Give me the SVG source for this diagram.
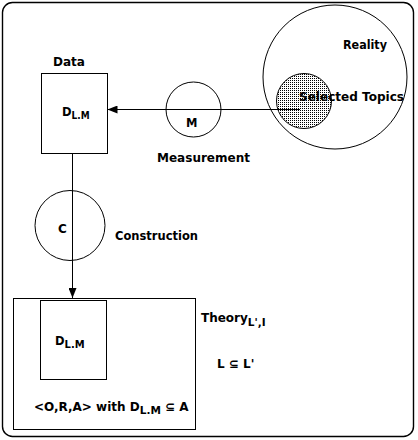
<svg xmlns="http://www.w3.org/2000/svg" width="418" height="440" viewBox="0 0 418 440">
<defs>
<style>
.s{fill:none;stroke:#000;stroke-width:1}
.t{font-family:"DejaVu Sans",sans-serif;font-weight:bold;font-size:12px;fill:#000}
.m{font-size:11.5px}
.sub{font-size:10.5px}
</style>
<pattern id="dots" width="2" height="2" patternUnits="userSpaceOnUse">
<rect width="2" height="2" fill="#fff"/>
<rect x="0" y="0" width="1" height="1" fill="#000"/>
</pattern>
<marker id="arr" viewBox="0 0 10 8" refX="10" refY="4" markerWidth="10" markerHeight="8" markerUnits="userSpaceOnUse" orient="auto">
<path d="M0,0 L10,4 L0,8 Z" fill="#000"/>
</marker>
</defs>
<rect width="418" height="440" fill="#fff"/>
<rect x="2.5" y="2.5" width="411" height="434" rx="10" ry="10" fill="none" stroke="#000" stroke-width="1.4"/>

<g id="reality">
<circle class="s" cx="335" cy="77" r="72"/>
<text class="t" x="343" y="49" textLength="44" lengthAdjust="spacingAndGlyphs">Reality</text>
</g>
<g id="selected-topics">
<circle cx="304" cy="101" r="27.5" fill="url(#dots)" stroke="#000" stroke-width="1"/>
<text class="t" x="299" y="101" textLength="105" lengthAdjust="spacingAndGlyphs">Selected Topics</text>
</g>

<g id="connectors">
<line class="s" x1="300" y1="109.5" x2="107.5" y2="109.5" marker-end="url(#arr)"/>
<line class="s" x1="72.5" y1="153" x2="72.5" y2="298" marker-end="url(#arr)"/>
</g>

<g id="measurement">
<circle class="s" cx="193.5" cy="109.5" r="27.5"/>
<text class="t m" x="186" y="127">M</text>
<text class="t" x="157" y="162" textLength="93" lengthAdjust="spacingAndGlyphs">Measurement</text>
</g>

<g id="data">
<rect class="s" x="41.5" y="73.5" width="66" height="80"/>
<text class="t" x="53" y="66" textLength="32" lengthAdjust="spacingAndGlyphs">Data</text>
<text class="t m" x="62" y="116">D<tspan class="sub" dy="3" textLength="18" lengthAdjust="spacingAndGlyphs">L.M</tspan></text>
</g>

<g id="construction">
<circle class="s" cx="70" cy="225.5" r="35"/>
<text class="t" x="58" y="233" font-size="12.5">C</text>
<text class="t" x="115" y="240" textLength="83" lengthAdjust="spacingAndGlyphs">Construction</text>
</g>

<g id="theory">
<rect class="s" x="13.5" y="298.5" width="182" height="131"/>
<rect class="s" x="40.5" y="300.5" width="66" height="79"/>
<text class="t m" x="55" y="345">D<tspan class="sub" dy="3" textLength="20" lengthAdjust="spacingAndGlyphs">L.M</tspan></text>
<text class="t" x="201" y="322" font-size="11.5">Theory<tspan class="sub" font-size="10" dy="4">L',I</tspan></text>
<text class="t" x="217" y="368" font-size="11.5">L ⊆ L'</text>
<text class="t" x="34" y="411" font-size="11.5">&lt;O,R,A&gt; with D<tspan class="sub" dy="3">L.M</tspan><tspan dy="-3"> ⊆ A</tspan></text>
</g>
</svg>
